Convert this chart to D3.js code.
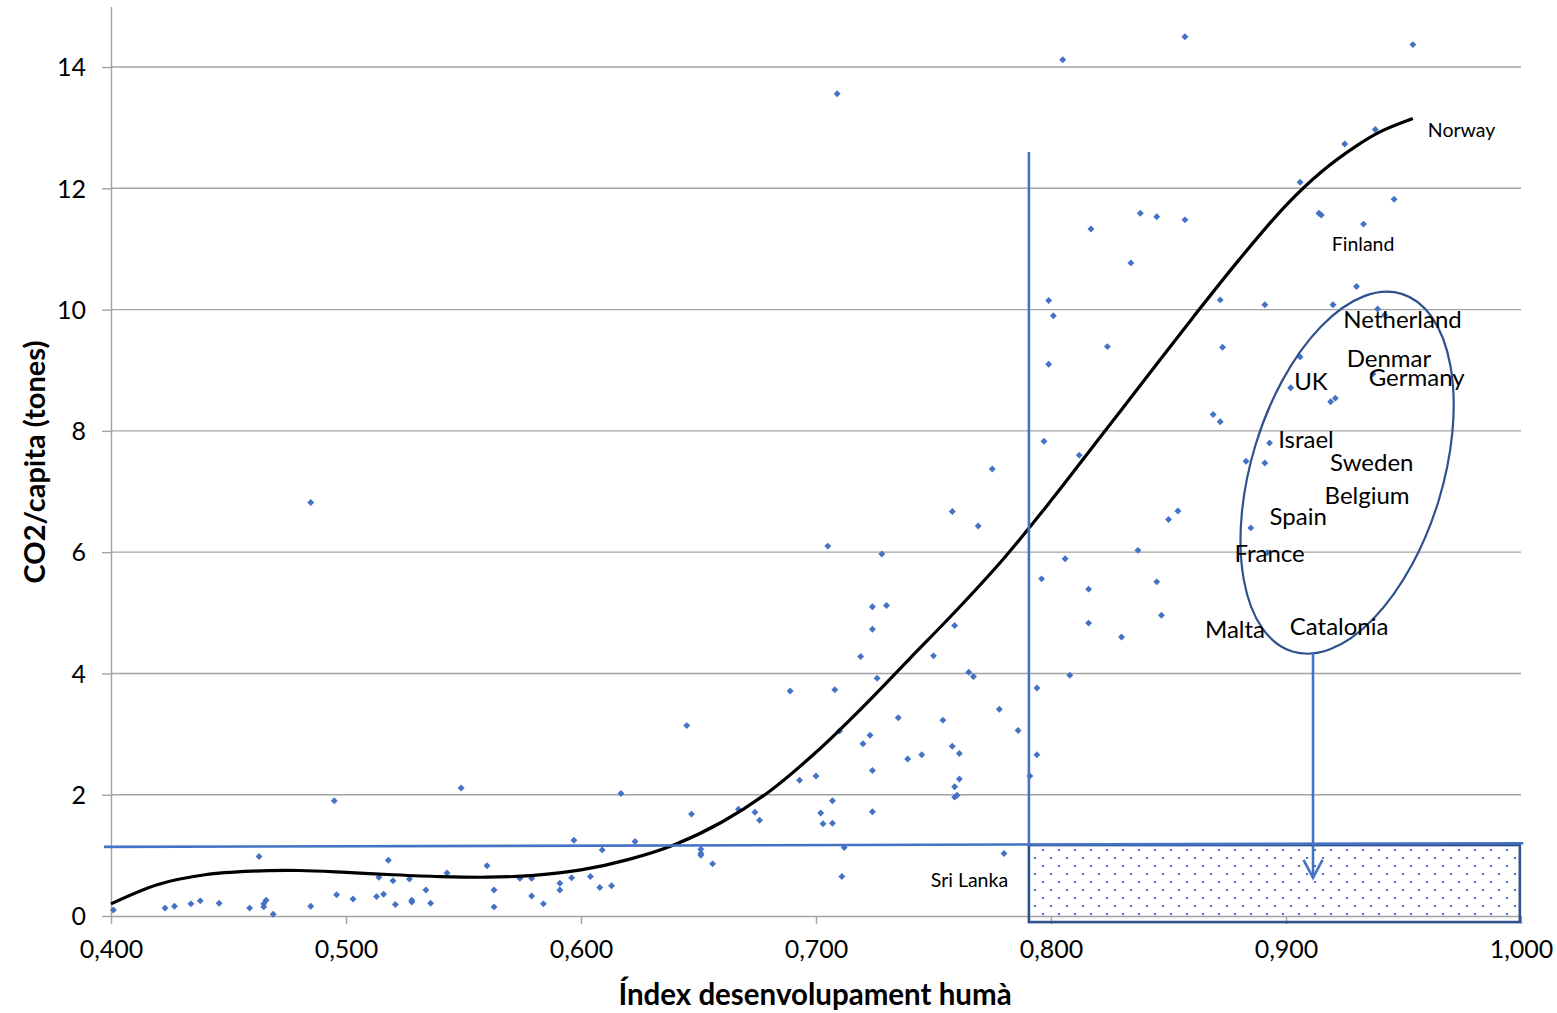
<!DOCTYPE html>
<html>
<head>
<meta charset="utf-8">
<script src="https://cdn.jsdelivr.net/npm/d3@7"></script>
<style>
  body { margin: 0; background: #fff; }
  svg { display: block; font-family: Lato, "Open Sans", sans-serif; }
</style>
</head>
<body>
<svg id="chart" width="1557" height="1013"></svg>
<script>
// scatter: human development index vs CO2 per capita
const hdiValues = [
  0.401, 0.423, 0.427, 0.434, 0.438, 0.446, 0.459, 0.463, 0.465, 0.465,
  0.466, 0.469, 0.485, 0.485, 0.495, 0.496, 0.503, 0.513, 0.514, 0.516,
  0.518, 0.520, 0.521, 0.527, 0.528, 0.528, 0.534, 0.536, 0.543, 0.549,
  0.560, 0.563, 0.563, 0.574, 0.579, 0.579, 0.584, 0.591, 0.591, 0.596,
  0.597, 0.604, 0.608, 0.609, 0.613, 0.617, 0.623, 0.645, 0.647, 0.651,
  0.651, 0.651, 0.656, 0.667, 0.674, 0.676, 0.689, 0.693, 0.700, 0.702,
  0.703, 0.707, 0.707, 0.708, 0.710, 0.711, 0.712, 0.719, 0.720, 0.723,
  0.724, 0.724, 0.726, 0.735, 0.739, 0.745, 0.750, 0.754, 0.758, 0.759,
  0.759, 0.760, 0.761, 0.761, 0.765, 0.767, 0.778, 0.780, 0.786, 0.791,
  0.794, 0.794,
  0.758, 0.769, 0.705, 0.728, 0.796, 0.724, 0.730, 0.724, 0.759, 0.775,
  0.709, 0.805, 0.857, 0.954, 0.938, 0.925, 0.906, 0.946, 0.914, 0.915,
  0.933, 0.838, 0.845, 0.857, 0.817, 0.834, 0.930, 0.799, 0.872, 0.891,
  0.920, 0.939, 0.801, 0.824, 0.873, 0.799, 0.906, 0.902, 0.919, 0.921,
  0.937, 0.942, 0.869, 0.872, 0.893, 0.883, 0.891, 0.885, 0.892, 0.797,
  0.812, 0.854, 0.850, 0.837, 0.806, 0.845, 0.816, 0.847, 0.816, 0.830, 0.808
];
const co2Values = [
  0.10, 0.13, 0.16, 0.20, 0.25, 0.21, 0.13, 0.98, 0.15, 0.20,
  0.26, 0.03, 6.82, 0.16, 1.90, 0.35, 0.28, 0.32, 0.64, 0.36,
  0.92, 0.58, 0.19, 0.61, 0.26, 0.23, 0.43, 0.21, 0.71, 2.11,
  0.83, 0.43, 0.15, 0.62, 0.62, 0.33, 0.20, 0.54, 0.43, 0.63,
  1.25, 0.65, 0.47, 1.09, 0.50, 2.02, 1.23, 3.14, 1.68, 1.10,
  1.03, 1.00, 0.86, 1.76, 1.71, 1.58, 3.71, 2.24, 2.31, 1.70,
  1.52, 1.90, 1.53, 3.73, 3.05, 0.65, 1.13, 4.28, 2.84, 2.98,
  2.40, 1.72, 3.92, 3.27, 2.59, 2.66, 4.29, 3.23, 2.80, 2.13,
  1.96, 1.99, 2.68, 2.26, 4.02, 3.95, 3.41, 1.03, 3.06, 2.31,
  2.66, 3.76,
  6.67, 6.43, 6.10, 5.97, 5.56, 5.10, 5.12, 4.73, 4.79, 7.37,
  13.56, 14.12, 14.50, 14.37, 12.97, 12.73, 12.10, 11.82, 11.59, 11.56,
  11.41, 11.59, 11.53, 11.48, 11.33, 10.77, 10.38, 10.15, 10.16, 10.08,
  10.08, 10.01, 9.90, 9.39, 9.38, 9.10, 9.22, 8.71, 8.48, 8.54,
  8.94, 9.91, 8.27, 8.15, 7.80, 7.50, 7.47, 6.40, 5.99, 7.83,
  7.60, 6.68, 6.54, 6.03, 5.89, 5.51, 5.39, 4.96, 4.83, 4.60, 3.97
];

// polynomial trendline
const trendHdi = [0.400, 0.420, 0.440, 0.460, 0.480, 0.500, 0.520, 0.540, 0.560, 0.580,
  0.600, 0.620, 0.640, 0.660, 0.680, 0.700, 0.720, 0.740, 0.760, 0.780,
  0.800, 0.820, 0.840, 0.860, 0.880, 0.900, 0.915, 0.930, 0.940, 0.954];
const trendCo2 = [0.20, 0.52, 0.68, 0.74, 0.75, 0.72, 0.68, 0.65, 0.64, 0.67,
  0.76, 0.93, 1.18, 1.55, 2.05, 2.70, 3.45, 4.25, 5.05, 5.90,
  6.85, 7.85, 8.85, 9.85, 10.82, 11.72, 12.27, 12.70, 12.93, 13.15];

const xTicks = [0.4, 0.5, 0.6, 0.7, 0.8, 0.9, 1.0];
const yTicks = [0, 2, 4, 6, 8, 10, 12, 14];

const bigLabels = ["Netherland", "Denmar", "Germany", "UK", "Israel", "Sweden",
  "Belgium", "Spain", "France", "Malta", "Catalonia"];
const bigLabelAt = [[0.9496, 9.70], [0.9438, 9.05], [0.9556, 8.74], [0.9106, 8.67],
  [0.9085, 7.71], [0.9365, 7.34], [0.9345, 6.79], [0.9052, 6.44], [0.8930, 5.83],
  [0.8783, 4.59], [0.9226, 4.63]];
const smallLabels = ["Norway", "Finland", "Sri Lanka"];
const smallLabelAt = [[0.9747, 12.85], [0.9328, 10.96], [0.7653, 0.48]];

const width = 1557;
const height = 1013;
const MARGIN = { TOP: 6.4, RIGHT: 36, BOTTOM: 97, LEFT: 111 };

const svg = d3.select("#chart");

const x = d3.scaleLinear().domain([0.4, 1.0]).range([MARGIN.LEFT, width - MARGIN.RIGHT]);
const y = d3.scaleLinear().domain([0, 15]).range([height - MARGIN.BOTTOM, MARGIN.TOP]);

const comma = d3.formatLocale({ decimal: ",", thousands: ".", grouping: [3], currency: ["", ""] });

const markColor = "#4472c4";
const darkBlue = "#2f528f";
const gridColor = "#a3a3a3";

// dotted fill for the box
const defs = svg.append("defs");
const pat = defs.append("pattern")
  .attr("id", "dots")
  .attr("patternUnits", "userSpaceOnUse")
  .attr("x", 2).attr("y", 1)
  .attr("width", 16).attr("height", 16);
pat.append("rect").attr("x", 0).attr("y", 0).attr("width", 2).attr("height", 2).attr("fill", markColor);
pat.append("rect").attr("x", 8).attr("y", 8).attr("width", 2).attr("height", 2).attr("fill", markColor);

// gridlines
svg.append("g")
  .selectAll("line")
  .data(yTicks.filter((d) => d > 0))
  .join("line")
  .attr("x1", x(0.4))
  .attr("x2", x(1.0))
  .attr("y1", (d) => y(d))
  .attr("y2", (d) => y(d))
  .attr("stroke", gridColor)
  .attr("stroke-width", 1.4);

// axes
const xAxis = svg.append("g")
  .attr("transform", `translate(0,${y(0)})`)
  .call(d3.axisBottom(x).tickValues(xTicks).tickSize(8).tickSizeOuter(0)
    .tickFormat(comma.format(".3f")));
const yAxis = svg.append("g")
  .attr("transform", `translate(${x(0.4)},0)`)
  .call(d3.axisLeft(y).tickValues(yTicks).tickSize(9).tickSizeOuter(0)
    .tickFormat(d3.format("d")));

[xAxis, yAxis].forEach((g) => {
  g.select(".domain").attr("stroke", gridColor).attr("stroke-width", 1.4);
  g.selectAll(".tick line").attr("stroke", gridColor).attr("stroke-width", 1.4);
  g.selectAll(".tick text")
    .attr("fill", "#000")
    .style("font-size", "25px")
    .style("font-family", "Lato, sans-serif");
});
xAxis.selectAll(".tick text").attr("dy", null).attr("y", 42);
yAxis.selectAll(".tick text").attr("x", -25).attr("dy", "0.35em");

// axis titles
svg.append("text")
  .attr("x", 815)
  .attr("y", 1005)
  .attr("text-anchor", "middle")
  .style("font-size", "29.5px")
  .style("font-weight", "bold")
  .text("Índex desenvolupament humà");
svg.append("text")
  .attr("transform", "translate(45,462) rotate(-90)")
  .attr("text-anchor", "middle")
  .style("font-size", "29px")
  .style("font-weight", "bold")
  .text("CO2/capita (tones)");

// box with dots, under the points
svg.append("rect")
  .attr("x", x(0.7906))
  .attr("y", y(1.17))
  .attr("width", x(0.9995) - x(0.7906))
  .attr("height", y(-0.10) - y(1.17))
  .attr("fill", "url(#dots)")
  .attr("stroke", darkBlue)
  .attr("stroke-width", 2.6);

// scatter points, small diamonds
const diamond = {
  draw(ctx, size) {
    const r = Math.sqrt(size) / 2;
    ctx.moveTo(0, -r);
    ctx.lineTo(r, 0);
    ctx.lineTo(0, r);
    ctx.lineTo(-r, 0);
    ctx.closePath();
  },
};
const points = d3.zip(hdiValues, co2Values);
svg.append("g")
  .selectAll("path")
  .data(points)
  .join("path")
  .attr("transform", (d) => `translate(${x(d[0])},${y(d[1])})`)
  .attr("d", d3.symbol().type(diamond).size(48))
  .attr("fill", markColor);

// trendline
const trend = d3.zip(trendHdi, trendCo2);
svg.append("path")
  .datum(trend)
  .attr("d", d3.line().x((d) => x(d[0])).y((d) => y(d[1])).curve(d3.curveCatmullRom))
  .attr("fill", "none")
  .attr("stroke", "#000")
  .attr("stroke-width", 3.2);

// annotation lines
svg.append("line")
  .attr("x1", x(0.397)).attr("y1", y(1.14))
  .attr("x2", x(1.001)).attr("y2", y(1.20))
  .attr("stroke", markColor).attr("stroke-width", 2.6);
svg.append("line")
  .attr("x1", x(0.7906)).attr("y1", y(12.60))
  .attr("x2", x(0.7906)).attr("y2", y(1.17))
  .attr("stroke", markColor).attr("stroke-width", 2.6);

// ellipse round the european group
const ellipseAt = [0.926, 7.31];
svg.append("ellipse")
  .attr("transform", `translate(${x(ellipseAt[0])},${y(ellipseAt[1])}) rotate(17)`)
  .attr("rx", 95.7)
  .attr("ry", 187)
  .attr("fill", "none")
  .attr("stroke", darkBlue)
  .attr("stroke-width", 2.2);

// arrow down into the box
const arrowX = x(0.9115);
svg.append("line")
  .attr("x1", arrowX).attr("y1", y(4.35))
  .attr("x2", arrowX).attr("y2", y(0.63))
  .attr("stroke", markColor).attr("stroke-width", 2.6);
svg.append("path")
  .attr("d", d3.line()([[arrowX - 9.5, y(0.63) - 18], [arrowX, y(0.63)], [arrowX + 9.5, y(0.63) - 18]]))
  .attr("fill", "none")
  .attr("stroke", markColor)
  .attr("stroke-width", 2.6);

// country labels
svg.append("g")
  .selectAll("text")
  .data(bigLabels)
  .join("text")
  .attr("x", (d, i) => x(bigLabelAt[i][0]))
  .attr("y", (d, i) => y(bigLabelAt[i][1]))
  .attr("text-anchor", "middle")
  .style("font-size", "24px")
  .text((d) => d);
svg.append("g")
  .selectAll("text")
  .data(smallLabels)
  .join("text")
  .attr("x", (d, i) => x(smallLabelAt[i][0]))
  .attr("y", (d, i) => y(smallLabelAt[i][1]))
  .attr("text-anchor", "middle")
  .style("font-size", "19.5px")
  .text((d) => d);
</script>
</body>
</html>
